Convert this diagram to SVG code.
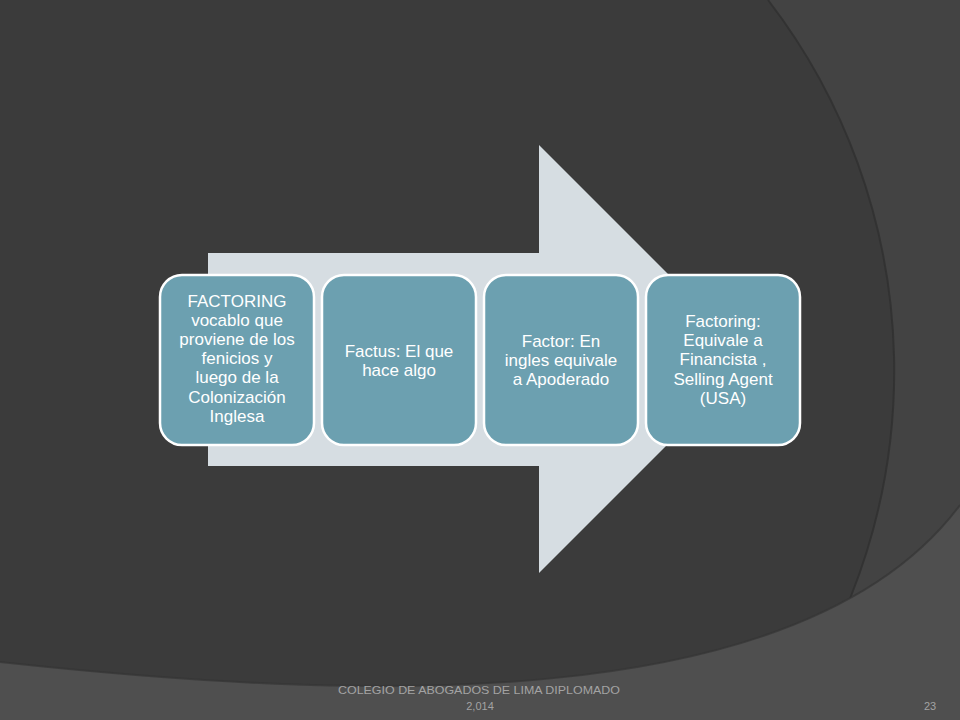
<svg xmlns="http://www.w3.org/2000/svg" width="960" height="720" viewBox="0 0 960 720">
  <style>
    .box { fill: #6ca0b0; stroke: #ffffff; stroke-width: 2.5; }
    .lbl { font-family: "Liberation Sans", Arial, sans-serif; font-size: 17px; fill: #ffffff; text-anchor: middle; }
    .foot { font-family: "Liberation Sans", Arial, sans-serif; font-size: 11px; fill: #a3a3a3; }
  </style>
  <defs>
    <clipPath id="rightArc">
      <path d="M 768 0 A 608 608 0 0 1 784 720 L 960 720 L 960 0 Z"/>
    </clipPath>
  </defs>

  <!-- background -->
  <g id="background">
    <rect x="0" y="0" width="960" height="720" fill="#3b3b3b"/>
    <path d="M 768 0 A 608 608 0 0 1 784 720 L 960 720 L 960 0 Z" fill="#434343"/>
    <path d="M 768 0 A 608 608 0 0 1 784 720" fill="none" stroke="#303030" stroke-width="2" opacity="0.8"/>
    <path d="M 0 662 C 350 700 800 720 960 505 L 960 720 L 0 720 Z" fill="#4f4f4f"/>
    <path d="M 0 662 C 350 700 800 720 960 505" fill="none" stroke="#353535" stroke-width="2" opacity="0.7"/>
    <path d="M 768 0 A 608 608 0 0 1 784 720" fill="none" stroke="#444444" stroke-width="1.5" clip-path="url(#rightArc)" opacity="0"/>
  </g>

  <!-- big arrow -->
  <g id="connectors">
    <path d="M 208 253 L 539 253 L 539 145 L 753 359 L 539 573 L 539 466 L 208 466 Z" fill="#d6dde2"/>
  </g>

  <g id="node1">
    <rect class="box" x="160" y="275" width="154" height="170" rx="22" ry="22"/>
    <text class="lbl" x="237" y="306.5">FACTORING</text>
    <text class="lbl" x="237" y="325.7">vocablo que</text>
    <text class="lbl" x="237" y="344.9">proviene de los</text>
    <text class="lbl" x="237" y="364.1">fenicios y</text>
    <text class="lbl" x="237" y="383.3">luego de la</text>
    <text class="lbl" x="237" y="402.5">Colonización</text>
    <text class="lbl" x="237" y="421.7">Inglesa</text>
  </g>

  <g id="node2">
    <rect class="box" x="322" y="275" width="154" height="170" rx="22" ry="22"/>
    <text class="lbl" x="399" y="356.5">Factus: El que</text>
    <text class="lbl" x="399" y="375.7">hace algo</text>
  </g>

  <g id="node3">
    <rect class="box" x="484" y="275" width="154" height="170" rx="22" ry="22"/>
    <text class="lbl" x="561" y="346.5">Factor: En</text>
    <text class="lbl" x="561" y="365.7">ingles equivale</text>
    <text class="lbl" x="561" y="384.9">a Apoderado</text>
  </g>

  <g id="node4">
    <rect class="box" x="646" y="275" width="154" height="170" rx="22" ry="22"/>
    <text class="lbl" x="723" y="326.5">Factoring:</text>
    <text class="lbl" x="723" y="345.9">Equivale a</text>
    <text class="lbl" x="723" y="365.3">Financista ,</text>
    <text class="lbl" x="723" y="384.7">Selling Agent</text>
    <text class="lbl" x="723" y="404.1">(USA)</text>
  </g>

  <g id="footer">
    <text class="foot" x="479" y="694" text-anchor="middle" textLength="282" lengthAdjust="spacingAndGlyphs">COLEGIO DE ABOGADOS DE LIMA DIPLOMADO</text>
    <text class="foot" x="480" y="710" text-anchor="middle">2,014</text>
    <text class="foot" x="930" y="710" text-anchor="middle">23</text>
  </g>
</svg>
